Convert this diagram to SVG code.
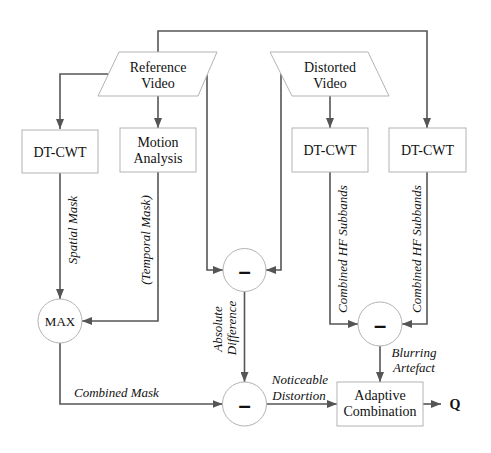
<svg xmlns="http://www.w3.org/2000/svg" width="491" height="453" viewBox="0 0 491 453">
<defs>
<marker id="arr" markerUnits="userSpaceOnUse" markerWidth="10" markerHeight="8" refX="10" refY="4" orient="auto">
<path d="M0,0 L10,4 L0,8 z" fill="#555"/>
</marker>
<style>
.box{fill:#fff;stroke:#b3b3b3;stroke-width:1}
.t{font-family:'Liberation Serif',serif;font-size:14px;fill:#111;text-anchor:middle}
.lab{font-family:'Liberation Serif',serif;font-size:13px;font-style:italic;fill:#111}
.mid{text-anchor:middle}
.minus{font-family:'Liberation Sans',sans-serif;font-size:22px;font-weight:bold;fill:#111;text-anchor:middle}
.c path{fill:none;stroke:#555;stroke-width:1.6;marker-end:url(#arr)}
</style>
</defs>
<rect width="491" height="453" fill="#fff"/>
<g id="connectors" class="c">
<path d="M158,52 V31 H427 V128"/>
<path d="M108.5,74 H60 V129"/>
<path d="M158,96 V128"/>
<path d="M207,75 V270 H223"/>
<path d="M281,74 V270 H266"/>
<path d="M330,96 V128"/>
<path d="M60,173 V299"/>
<path d="M158,172 V321 H82"/>
<path d="M330,172 V324 H358"/>
<path d="M427,172 V324 H402"/>
<path d="M244.5,291.5 V382"/>
<path d="M60,343 V404 H222.5"/>
<path d="M266.5,404 H337"/>
<path d="M380,346 V382"/>
<path d="M423,404 H441"/>
</g>
<g id="reference-video">
<polygon class="box" points="119,52 217,52 198,96 98,96"/>
<text class="t" x="158" y="72">Reference</text>
<text class="t" x="158" y="88">Video</text>
</g>
<g id="distorted-video">
<polygon class="box" points="270,52 368,52 389,96 292,96"/>
<text class="t" x="330" y="72">Distorted</text>
<text class="t" x="330" y="88">Video</text>
</g>
<g id="dtcwt-left">
<rect class="box" x="22" y="130" width="76" height="43"/>
<text class="t" x="60" y="157">DT-CWT</text>
</g>
<g id="motion-analysis">
<rect class="box" x="120" y="128" width="76" height="44"/>
<text class="t" x="158" y="147">Motion</text>
<text class="t" x="158" y="163">Analysis</text>
</g>
<g id="dtcwt-mid">
<rect class="box" x="292" y="128" width="76" height="44"/>
<text class="t" x="330" y="155">DT-CWT</text>
</g>
<g id="dtcwt-right">
<rect class="box" x="389" y="128" width="77" height="44"/>
<text class="t" x="427.5" y="155">DT-CWT</text>
</g>
<g id="max">
<circle class="box" cx="60" cy="321" r="22"/>
<text class="t" x="60" y="326" style="font-size:13px">MAX</text>
</g>
<g id="adaptive-combination">
<rect class="box" x="337" y="382" width="86" height="44"/>
<text class="t" x="380" y="400">Adaptive</text>
<text class="t" x="380" y="416">Combination</text>
</g>
<g id="q">
<text class="t" x="455" y="409" style="font-weight:bold">Q</text>
</g>
<g id="labels">
<text class="lab mid" transform="translate(77,230) rotate(-90)">Spatial Mask</text>
<text class="lab mid" transform="translate(150,240) rotate(-90)">(Temporal Mask)</text>
<text class="lab mid" transform="translate(222,329) rotate(-90)">Absolute</text>
<text class="lab mid" transform="translate(236,328) rotate(-90)">Difference</text>
<text class="lab mid" transform="translate(347,249) rotate(-90)">Combined HF Subbands</text>
<text class="lab mid" transform="translate(421,249) rotate(-90)">Combined HF Subbands</text>
<text class="lab" x="74" y="397">Combined Mask</text>
<text class="lab mid" x="300" y="384">Noticeable</text>
<text class="lab mid" x="299" y="400">Distortion</text>
<text class="lab mid" x="414" y="357">Blurring</text>
<text class="lab mid" x="414" y="372">Artefact</text>
</g>
<g id="minus1">
<circle class="box" cx="244.5" cy="270" r="21.5"/>
<text class="minus" x="244.5" y="279">–</text>
</g>
<g id="minus2">
<circle class="box" cx="244.5" cy="404" r="22"/>
<text class="minus" x="244.5" y="413">–</text>
</g>
<g id="minus3">
<circle class="box" cx="380" cy="324" r="22"/>
<text class="minus" x="380" y="333">–</text>
</g>
</svg>
